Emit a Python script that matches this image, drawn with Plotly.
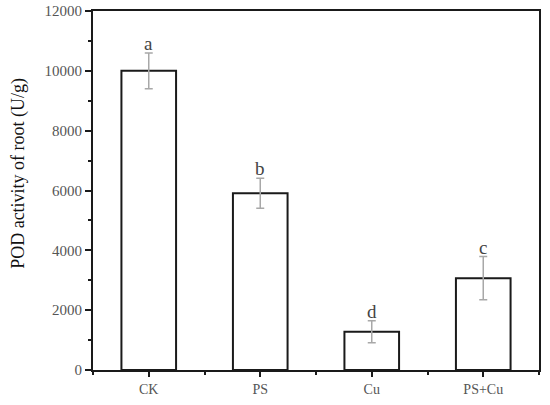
import plotly.graph_objects as go

categories = ["CK", "PS", "Cu", "PS+Cu"]
values = [10000, 5910, 1280, 3070]
errors = [600, 500, 370, 720]
letters = ["a", "b", "d", "c"]
x_pos = [0, 1, 2, 3]
y_title = "POD activity of root (U/g)"

fig = go.Figure()
fig.add_trace(go.Bar(
    x=x_pos, y=values, width=0.49,
    marker=dict(color="white", line=dict(color="#1a1a1a", width=2)),
    error_y=dict(type="data", array=errors, visible=True, color="#a8a8a8", thickness=1.5, width=4),
    showlegend=False, hoverinfo="skip",
))

for xi, v, e, l in zip(x_pos, values, errors, letters):
    fig.add_annotation(x=xi, y=v + e, text=l, showarrow=False, yanchor="bottom", yshift=-3,
                       font=dict(family="Liberation Serif", size=19, color="#444"))

fig.add_annotation(xref="paper", yref="paper", x=-0.166, y=0.549, text=y_title,
                   textangle=-90, showarrow=False, xanchor="center", yanchor="middle",
                   font=dict(family="Liberation Serif", size=18, color="#111"))

fig.update_layout(
    width=550, height=405,
    margin=dict(l=93, r=11, t=11, b=35, autoexpand=False),
    plot_bgcolor="white", paper_bgcolor="white",
)
fig.update_xaxes(
    range=[-0.5, 3.5], tickmode="array", tickvals=x_pos, ticktext=categories,
    showline=True, linecolor="#1a1a1a", linewidth=2, mirror=True,
    ticks="outside", ticklen=5, tickwidth=2, tickcolor="#1a1a1a",
    showgrid=False, zeroline=False,
    tickfont=dict(family="Liberation Serif", size=14, color="#555"),
    minor=dict(tickmode="linear", tick0=0.5, dtick=1, ticks="outside", ticklen=3, tickwidth=2, tickcolor="#1a1a1a"),
)
fig.update_yaxes(
    range=[0, 12000], tickmode="linear", tick0=0, dtick=2000, tickformat="d",
    showline=True, linecolor="#1a1a1a", linewidth=2, mirror=True,
    ticks="outside", ticklen=6, tickwidth=2, tickcolor="#1a1a1a",
    showgrid=False, zeroline=False,
    tickfont=dict(family="Liberation Serif", size=15, color="#555"),
    minor=dict(tickmode="linear", tick0=1000, dtick=2000, ticks="outside", ticklen=3, tickwidth=1.5, tickcolor="#1a1a1a"),
)

fig.write_html("out.html", config={"displayModeBar": False},
               post_script="document.body.style.margin='0';")
